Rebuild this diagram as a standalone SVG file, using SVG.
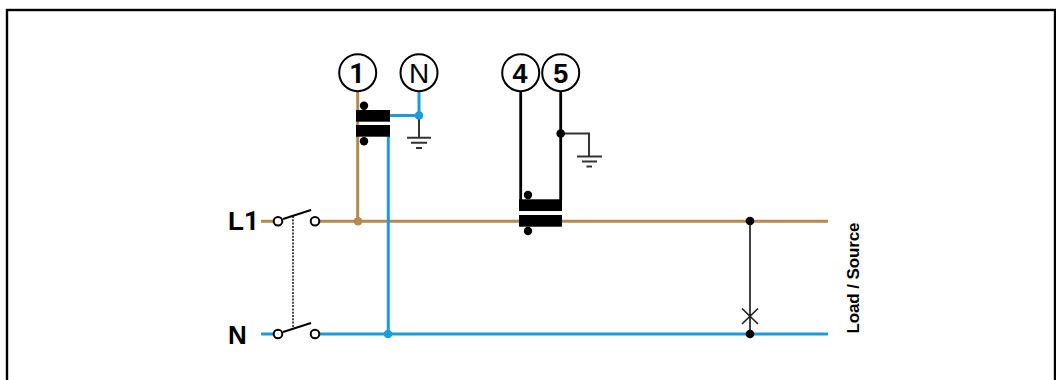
<svg xmlns="http://www.w3.org/2000/svg" width="1056" height="380" viewBox="0 0 1056 380">
<style>
text{font-family:"Liberation Sans",Arial,sans-serif;fill:#000;font-weight:bold}
.r{font-family:Roboto,"Liberation Sans",sans-serif}
.t{font-size:27px;text-anchor:middle}
.c{fill:#fff;stroke:#000;stroke-width:2}
.br{stroke:#b5894f;stroke-width:3;fill:none}
.bl{stroke:#1b9ddb;stroke-width:3;fill:none}
.k{stroke:#000;stroke-width:2.8;fill:none}
.g{stroke:#333;stroke-width:2;fill:none}
.sw{fill:#fff;stroke:#000;stroke-width:2}
.lv{stroke:#000;stroke-width:2;fill:none}
</style>
<rect x="7" y="10" width="1048" height="380" fill="#fff" stroke="#000" stroke-width="2.4"/>
<g id="connectors">
<path class="br" d="M261 221.3H274M319 221.3H828M357.7 91V221.3"/>
<path class="bl" d="M261 334H274M319 334H828M388.3 136V334M390 115.5H419V91"/>
<path class="g" d="M419 115.5V138M407 137.7H431M411 142.8H427M416 148H422"/>
<path class="k" d="M520.7 91V200M560.7 91V200"/>
<path class="g" d="M560.7 133.5H589V156M577 156.5H602M582 161.5H597M586.5 166.5H592"/>
<path d="M750 221V334M742 308.500L758 324M758 308.500L742 324" stroke="#222" stroke-width="1.7" fill="none"/>
<path d="M293 216V329" stroke="#000" stroke-width="1.4" stroke-dasharray="2 1.3" fill="none"/>
<circle cx="358" cy="221.3" r="4.300" fill="#b5894f"/>
<circle cx="388" cy="334" r="4.300" fill="#1b9ddb"/>
<circle cx="419" cy="115.5" r="4.300" fill="#1b9ddb"/>
<circle cx="560.7" cy="133.5" r="4.300" fill="#000"/>
<circle cx="750" cy="221" r="4.300" fill="#000"/>
<circle cx="750" cy="334" r="4.300" fill="#000"/>
</g>
<g id="term-1"><circle class="c" cx="357.7" cy="72.7" r="18.5"/><text class="t r" x="357" y="82.500">1</text></g>
<g id="term-N"><circle class="c" cx="419" cy="72.7" r="18.5"/><text x="419" y="82.700" style="font-weight:normal;font-size:28px;text-anchor:middle">N</text></g>
<g id="term-4"><circle class="c" cx="520.7" cy="72.7" r="18.5"/><text class="t" x="520" y="82.500">4</text></g>
<g id="term-5"><circle class="c" cx="560.7" cy="72.7" r="18.5"/><text class="t" x="560.700" y="82.500">5</text></g>
<g id="ct-1">
<rect x="356" y="110" width="34" height="11.7"/><rect x="356" y="125" width="34" height="11.7"/>
<circle cx="364" cy="105.7" r="4.200"/><circle cx="364" cy="141.3" r="4.200"/>
</g>
<g id="ct-2">
<rect x="519" y="199.3" width="43" height="11.7"/><rect x="519" y="215" width="43" height="11.7"/>
<circle cx="528" cy="195" r="4.200"/><circle cx="528" cy="231" r="4.200"/>
</g>
<g id="switch-L1"><path class="lv" d="M283 219L311 210"/><circle class="sw" cx="278" cy="221.3" r="4.300"/><circle class="sw" cx="315" cy="221.3" r="4.300"/></g>
<g id="switch-N"><path class="lv" d="M283 332L311 323"/><circle class="sw" cx="278" cy="334" r="4.300"/><circle class="sw" cx="315" cy="334" r="4.300"/></g>
<g id="labels">
<text x="228" y="229.500" font-size="26">L<tspan class="r">1</tspan></text>
<text x="228" y="344" font-size="26">N</text>
<text transform="translate(859 278) rotate(-90)" font-size="17" text-anchor="middle" textLength="111">Load / Source</text>
</g>
</svg>
